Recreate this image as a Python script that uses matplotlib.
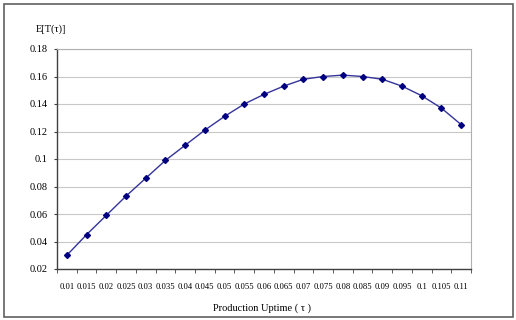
import matplotlib.pyplot as plt
from matplotlib.patches import Rectangle

uptime = ['0.01', '0.015', '0.02', '0.025', '0.03', '0.035', '0.04', '0.045', '0.05', '0.055', '0.06',
          '0.065', '0.07', '0.075', '0.08', '0.085', '0.09', '0.095', '0.1', '0.105', '0.11']
profit = [0.030, 0.045, 0.059, 0.073, 0.086, 0.099, 0.110, 0.121, 0.131, 0.140, 0.147,
          0.153, 0.158, 0.160, 0.161, 0.160, 0.158, 0.153, 0.146, 0.137, 0.125]
yticks = [0.02, 0.04, 0.06, 0.08, 0.1, 0.12, 0.14, 0.16, 0.18]
ylabels = ['0.02', '0.04', '0.06', '0.08', '0.1', '0.12', '0.14', '0.16', '0.18']

plt.rcParams['font.family'] = ['Liberation Serif', 'DejaVu Serif']

fig = plt.figure(figsize=(5.16, 3.2), dpi=100)
ax = fig.add_axes([57 / 516, 1 - 269 / 320, 414 / 516, 220 / 320])

x = list(range(len(uptime)))
ax.plot(x, profit, color='#34349a', lw=1.0, marker='D', ms=3.0,
        mfc='#000080', mec='#000080', zorder=3)

ax.set_xlim(-0.5, len(uptime) - 0.5)
ax.set_ylim(0.02, 0.18)
ax.set_yticks(yticks)
ax.set_yticklabels(ylabels, fontsize=7.5)
ax.set_xticks(x)
ax.set_xticklabels(uptime, fontsize=6.2)
ax.set_xticks([i - 0.5 for i in range(len(uptime) + 1)], minor=True)
ax.tick_params(axis='x', which='major', length=0, pad=10)
ax.tick_params(axis='x', which='minor', length=3, color='#404040', direction='out')
ax.tick_params(axis='y', length=2.5, color='#404040', pad=4)

ax.grid(axis='y', color='#c8c8c8', lw=0.8)
ax.set_axisbelow(True)
for s in ['top', 'right']:
    ax.spines[s].set_color('#b0b0b0')
for s in ['left', 'bottom']:
    ax.spines[s].set_color('#404040')
    ax.spines[s].set_linewidth(1.0)

fig.text(36 / 516, 1 - 29 / 320, 'E[T(τ)]', fontsize=7.5, va='center', ha='left')
fig.text(262 / 516, 1 - 308 / 320, 'Production Uptime ( τ )', fontsize=7.5, va='center', ha='center')

fig.patches.append(Rectangle((4 / 516, 3 / 320), 509 / 516, 313 / 320, transform=fig.transFigure,
                             fill=False, ec='#606060', lw=1.2))

fig.savefig('out.png', dpi=100)
